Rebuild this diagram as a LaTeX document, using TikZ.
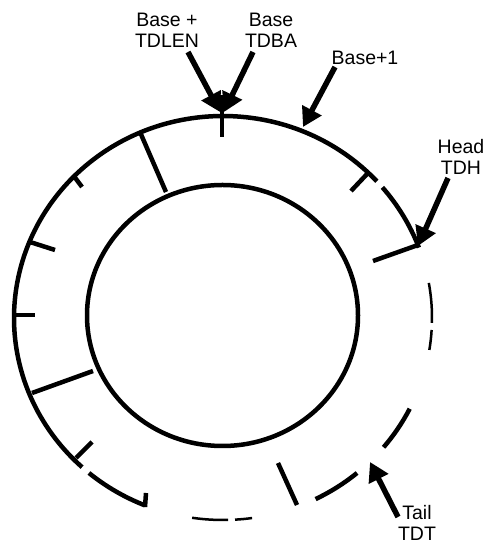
\documentclass[tikz,border=0pt]{standalone}
\usepackage{fontspec}
\setmainfont{Liberation Sans}
\usetikzlibrary{arrows.meta}

\begin{document}
\begin{tikzpicture}[x=1pt, y=1pt, >={Triangle[length=19pt,width=21pt]},
  ring/.style={line width=4.5pt},
  thinring/.style={line width=2.5pt},
  pointer/.style={->, line width=5.5pt},
  lbl/.style={align=center, font=\fontsize{19.5}{21}\selectfont, inner sep=0pt}]
\useasboundingbox (0,0) rectangle (485,548);
% descriptor ring
\coordinate (ctr) at (223,230);
\draw[ring] (222.5,232.5) ellipse [x radius=135.5, y radius=130.5];
\foreach \a/\b in {42.6/227.6, 230.1/248.1, 296.3/309.9, -39.8/-26.7, 20.4/40.3}
  \draw[ring] (ctr) ++(\a:209 and 202) arc[start angle=\a, end angle=\b, x radius=209, y radius=202];
\foreach \a/\b in {261.5/271.4, 273.3/278, -9.1/-3.4, -1.4/10}
  \draw[thinring] (ctr) ++(\a:209 and 202) arc[start angle=\a, end angle=\b, x radius=209, y radius=202];
% slot marks
\draw[ring] (222,453) -- (222,411);
\draw[ring] (140,416) -- (166,356);
\draw[ring] (73,373) -- (82,361);
\draw[ring] (30,306) -- (55,298);
\draw[ring] (15,233) -- (35,233);
\draw[ring] (32,155) -- (93,177);
\draw[ring] (76,90) -- (92,106);
\draw[ring] (145,41) -- (146,55);
\draw[ring] (278,85) -- (297,43);
\draw[ring] (368,375) -- (351,357);
\draw[ring] (418,303) -- (373,287);
% labels
\node[lbl] (tdlen) at (167,518) {Base +\\TDLEN};
\node[lbl] (tdba) at (271,518) {Base\\TDBA};
\node[lbl] (base1) at (365,490) {Base+1};
\node[lbl] (tdh) at (461,391) {Head\\TDH};
\node[lbl] (tdt) at (417,25) {Tail\\TDT};
% pointers
\coordinate (tdlen-s) at (188,496);
\coordinate (tdlen-e) at (220,436);
\coordinate (tdba-s) at (253,496);
\coordinate (tdba-e) at (224,436);
\coordinate (base1-s) at (335,481);
\coordinate (base1-e) at (303,421);
\coordinate (tdh-s) at (448,370);
\coordinate (tdh-e) at (418,302);
\coordinate (tdt-s) at (398,31);
\coordinate (tdt-e) at (370,86);
\draw[pointer] (tdlen-s) -- (tdlen-e);
\draw[pointer] (tdba-s) -- (tdba-e);
\draw[pointer] (base1-s) -- (base1-e);
\draw[pointer] (tdh-s) -- (tdh-e);
\draw[pointer] (tdt-s) -- (tdt-e);
\end{tikzpicture}
\end{document}
